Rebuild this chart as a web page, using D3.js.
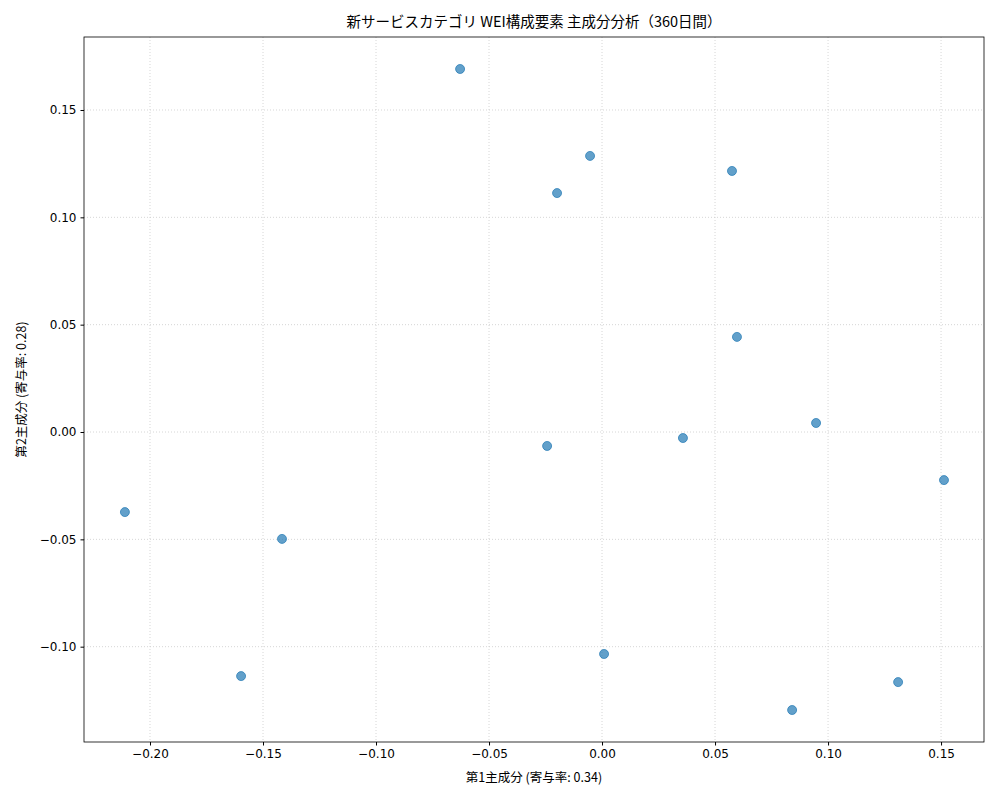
<!DOCTYPE html>
<html><head><meta charset="utf-8">
<script src="https://cdn.jsdelivr.net/npm/d3@7"></script>
<style>body{margin:0;background:#fff;font-family:"Noto Sans CJK JP","DejaVu Sans",sans-serif;}</style>
</head><body><svg id="c" width="1000" height="800"></svg>
<script>
const pc1 = [-0.0628,-0.0053,-0.0199,0.0575,0.0597,0.0947,0.0358,-0.0243,0.1513,-0.2111,-0.1416,-0.1597,0.0009,0.0841,0.1310];
const pc2 = [0.1691,0.1286,0.1113,0.1216,0.0443,0.0042,-0.0028,-0.0065,-0.0224,-0.0373,-0.0498,-0.1137,-0.1034,-0.1295,-0.1165];
const xTicks = [-0.20,-0.15,-0.10,-0.05,0.00,0.05,0.10,0.15];
const yTicks = [-0.10,-0.05,0.00,0.05,0.10,0.15];
const title = "新サービスカテゴリ WEI構成要素 主成分分析（360日間）";
const xLabel = "第1主成分 (寄与率: 0.34)";
const yLabel = "第2主成分 (寄与率: 0.28)";

const L=84,R=984,T=37,B=742;
const svg=d3.select("#c");
const x=d3.scaleLinear().domain([-0.2292,0.1690]).range([L,R]);
const y=d3.scaleLinear().domain([-0.1444,0.1840]).range([B,T]);
const fmt=v=>d3.format(".2f")(v).replace("-","−");
const g=svg.append("g");
g.selectAll(".gx").data(xTicks).join("line").attr("x1",d=>x(d)).attr("x2",d=>x(d)).attr("y1",T).attr("y2",B)
 .attr("stroke","#ccc").attr("stroke-width",0.8).attr("stroke-dasharray","1,2");
g.selectAll(".gy").data(yTicks).join("line").attr("y1",d=>y(d)).attr("y2",d=>y(d)).attr("x1",L).attr("x2",R)
 .attr("stroke","#ccc").attr("stroke-width",0.8).attr("stroke-dasharray","1,2");
svg.append("g").attr("transform",`translate(0,${B})`).call(d3.axisBottom(x).tickValues(xTicks).tickFormat(fmt).tickSize(3.5).tickPadding(4))
 .call(a=>{a.select(".domain").remove();a.selectAll("text").attr("font-size",12).attr("fill","#000").attr("font-family","DejaVu Sans");});
svg.append("g").attr("transform",`translate(${L},0)`).call(d3.axisLeft(y).tickValues(yTicks).tickFormat(fmt).tickSize(3.5).tickPadding(4))
 .call(a=>{a.select(".domain").remove();a.selectAll("text").attr("font-size",12).attr("fill","#000").attr("font-family","DejaVu Sans");});
svg.append("rect").attr("x",L).attr("y",T).attr("width",R-L).attr("height",B-T).attr("fill","none").attr("stroke","#000").attr("stroke-width",0.8);
svg.append("g").selectAll("circle").data(pc1.map((v,i)=>[v,pc2[i]])).join("circle")
 .attr("cx",d=>x(d[0])).attr("cy",d=>y(d[1])).attr("r",4.5).attr("fill","#1f77b4").attr("fill-opacity",0.7).attr("stroke","#1f77b4").attr("stroke-opacity",0.7);
svg.append("text").attr("x",(L+R)/2).attr("y",27).attr("text-anchor","middle").attr("font-size",14.5).text(title);
svg.append("text").attr("x",(L+R)/2).attr("y",782).attr("text-anchor","middle").attr("font-size",12.5).text(xLabel);
svg.append("text").attr("transform",`translate(26,${(T+B)/2}) rotate(-90)`).attr("text-anchor","middle").attr("font-size",12.5).text(yLabel);
</script></body></html>
